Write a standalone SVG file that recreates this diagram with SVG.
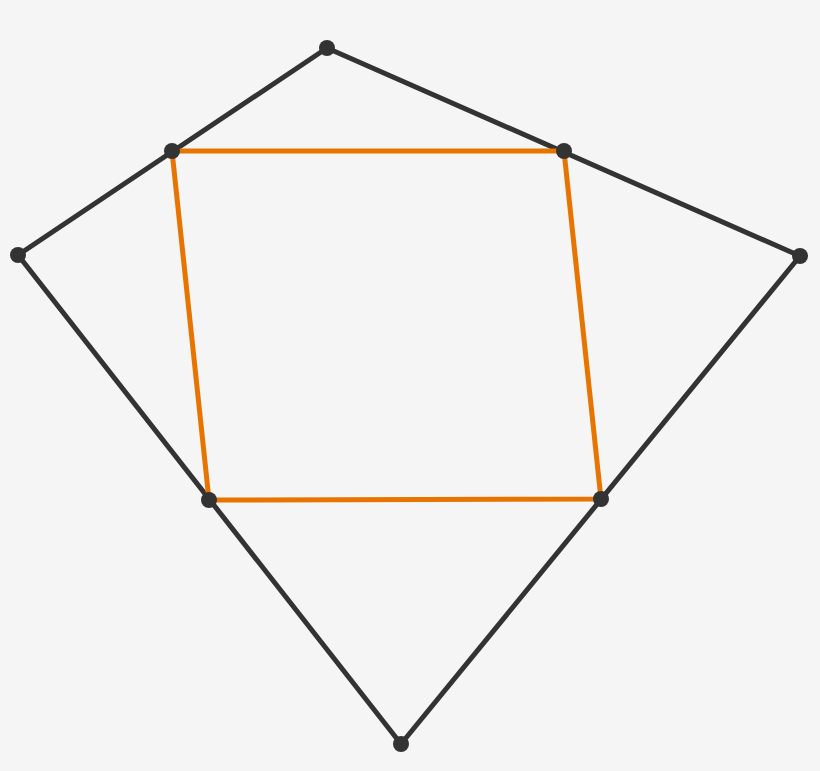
<svg xmlns="http://www.w3.org/2000/svg" width="820" height="771" viewBox="0 0 820 771">
<style>
.quad{fill:none;stroke:#333333;stroke-width:5;stroke-linejoin:round}
.par{fill:none;stroke:#e87400;stroke-width:5;stroke-linejoin:round}
.pt{fill:#333333}
</style>
<rect width="820" height="771" fill="#f5f5f5"/>
<g id="connectors">
<polygon class="quad" points="327,48 800,256 401,744 18,255"/>
<polygon class="par" points="172,151 564,151 601,499 209,500"/>
</g>
<g id="A"><circle class="pt" cx="327" cy="48" r="8"/></g>
<g id="B"><circle class="pt" cx="800" cy="256" r="8"/></g>
<g id="C"><circle class="pt" cx="401" cy="744" r="8"/></g>
<g id="D"><circle class="pt" cx="18" cy="255" r="8"/></g>
<g id="M1"><circle class="pt" cx="172" cy="151" r="8"/></g>
<g id="M2"><circle class="pt" cx="564" cy="151" r="8"/></g>
<g id="M3"><circle class="pt" cx="601" cy="499" r="8"/></g>
<g id="M4"><circle class="pt" cx="209" cy="500" r="8"/></g>
</svg>
